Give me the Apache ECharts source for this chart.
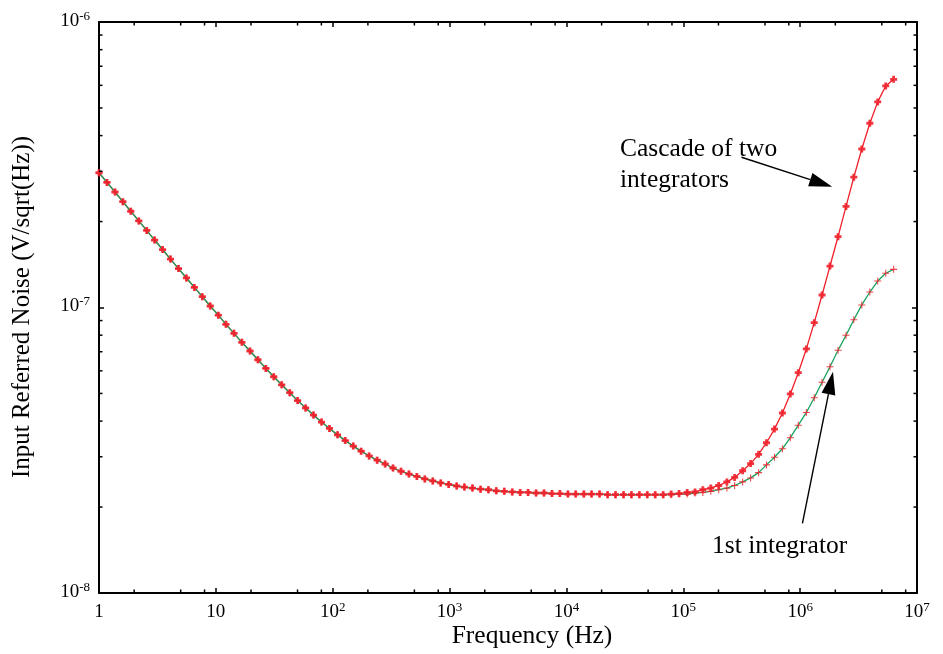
<!DOCTYPE html>
<html>
<head>
<meta charset="utf-8">
<title>Input referred noise</title>
<script src="https://cdn.jsdelivr.net/npm/echarts@6/dist/echarts.min.js"></script>
<style>
  html, body { margin: 0; padding: 0; background: #fff; }
  #chart { width: 943px; height: 654px; }
</style>
</head>
<body>
<div id="chart"></div>
<script>
// frequency grid (Hz), log spaced
const freqHz = [
  1, 1.17, 1.37, 1.6, 1.87, 2.19, 2.56, 2.99, 3.5, 4.09, 4.79, 5.6, 6.55, 7.66, 8.95,
  10.5, 12.2, 14.3, 16.7, 19.6, 22.9, 26.8, 31.3, 36.6, 42.9, 50.1, 58.6, 68.5, 80.2, 93.8,
  110, 128, 150, 175, 205, 240, 281, 328, 384, 449, 525, 614, 718, 839, 982,
  1150, 1340, 1570, 1840, 2150, 2510, 2940, 3440, 4020, 4700, 5500, 6430, 7520, 8790, 1.03e4,
  1.2e4, 1.41e4, 1.64e4, 1.92e4, 2.25e4, 2.63e4, 3.08e4, 3.6e4, 4.21e4, 4.92e4, 5.75e4, 6.73e4, 7.87e4, 9.2e4, 1.08e5,
  1.26e5, 1.47e5, 1.72e5, 2.01e5, 2.36e5, 2.75e5, 3.22e5, 3.77e5, 4.41e5, 5.15e5, 6.03e5, 7.05e5, 8.24e5, 9.64e5, 1.13e6,
  1.32e6, 1.54e6, 1.8e6, 2.11e6, 2.47e6, 2.88e6, 3.37e6, 3.95e6, 4.61e6, 5.4e6, 6.31e6
];

// cascade of two integrators (V/sqrt(Hz))
const cascadeNoise = [
  2.965e-7, 2.743e-7, 2.538e-7, 2.348e-7, 2.173e-7, 2.011e-7, 1.862e-7, 1.723e-7, 1.596e-7, 1.478e-7,
  1.369e-7, 1.269e-7, 1.176e-7, 1.091e-7, 1.012e-7, 9.40e-8, 8.73e-8, 8.12e-8, 7.55e-8, 7.04e-8,
  6.56e-8, 6.12e-8, 5.72e-8, 5.36e-8, 5.03e-8, 4.72e-8, 4.45e-8, 4.20e-8, 3.97e-8, 3.77e-8,
  3.58e-8, 3.42e-8, 3.27e-8, 3.14e-8, 3.02e-8, 2.92e-8, 2.83e-8, 2.74e-8, 2.67e-8, 2.61e-8,
  2.56e-8, 2.51e-8, 2.47e-8, 2.43e-8, 2.40e-8, 2.37e-8, 2.35e-8, 2.33e-8, 2.31e-8, 2.30e-8,
  2.28e-8, 2.27e-8, 2.26e-8, 2.25e-8, 2.25e-8, 2.24e-8, 2.24e-8, 2.23e-8, 2.23e-8, 2.22e-8,
  2.22e-8, 2.22e-8, 2.22e-8, 2.22e-8, 2.21e-8, 2.21e-8, 2.21e-8, 2.21e-8, 2.21e-8, 2.21e-8,
  2.21e-8, 2.21e-8, 2.22e-8, 2.23e-8, 2.25e-8, 2.26e-8, 2.30e-8, 2.33e-8, 2.38e-8, 2.45e-8,
  2.54e-8, 2.68e-8, 2.84e-8, 3.06e-8, 3.36e-8, 3.75e-8, 4.27e-8, 4.98e-8, 5.91e-8, 7.16e-8,
  8.85e-8, 1.106e-7, 1.397e-7, 1.77e-7, 2.26e-7, 2.86e-7, 3.59e-7, 4.42e-7, 5.25e-7, 5.97e-7,
  6.30e-7
];

// 1st integrator (V/sqrt(Hz))
const firstNoise = [
  2.965e-7, 2.743e-7, 2.538e-7, 2.348e-7, 2.173e-7, 2.011e-7, 1.862e-7, 1.723e-7, 1.596e-7, 1.478e-7,
  1.369e-7, 1.269e-7, 1.176e-7, 1.091e-7, 1.012e-7, 9.40e-8, 8.73e-8, 8.12e-8, 7.55e-8, 7.04e-8,
  6.56e-8, 6.12e-8, 5.72e-8, 5.36e-8, 5.03e-8, 4.72e-8, 4.45e-8, 4.20e-8, 3.97e-8, 3.77e-8,
  3.58e-8, 3.42e-8, 3.27e-8, 3.14e-8, 3.02e-8, 2.92e-8, 2.83e-8, 2.74e-8, 2.67e-8, 2.61e-8,
  2.56e-8, 2.51e-8, 2.47e-8, 2.43e-8, 2.40e-8, 2.37e-8, 2.35e-8, 2.33e-8, 2.31e-8, 2.30e-8,
  2.28e-8, 2.27e-8, 2.26e-8, 2.25e-8, 2.25e-8, 2.24e-8, 2.24e-8, 2.23e-8, 2.23e-8, 2.22e-8,
  2.22e-8, 2.22e-8, 2.22e-8, 2.22e-8, 2.21e-8, 2.21e-8, 2.21e-8, 2.21e-8, 2.21e-8, 2.21e-8,
  2.21e-8, 2.21e-8, 2.21e-8, 2.22e-8, 2.22e-8, 2.24e-8, 2.25e-8, 2.27e-8, 2.30e-8, 2.33e-8,
  2.38e-8, 2.45e-8, 2.53e-8, 2.64e-8, 2.81e-8, 2.99e-8, 3.20e-8, 3.50e-8, 3.87e-8, 4.29e-8,
  4.83e-8, 5.47e-8, 6.20e-8, 7.08e-8, 7.99e-8, 9.06e-8, 1.021e-7, 1.133e-7, 1.238e-7, 1.318e-7,
  1.36e-7
];

const xMinorTicks = [2, 5, 8, 20, 50, 80, 200, 500, 800, 2e3, 5e3, 8e3, 2e4, 5e4, 8e4, 2e5, 5e5, 8e5, 2e6, 5e6, 8e6];
const yMinorTicks = [2e-8, 3e-8, 4e-8, 5e-8, 6e-8, 7e-8, 8e-8, 9e-8, 2e-7, 3e-7, 4e-7, 5e-7, 6e-7, 7e-7, 8e-7, 9e-7];

const xMin = 1, xMax = 1e7, yMin = 1e-8, yMax = 1e-6;

const FONT = '"Liberation Serif", "DejaVu Serif", serif';
const RED = '#f0202a';
const GREEN = '#17a25c';

const boldPlus = 'path://M-1.2,-3H1.2V-1.2H3V1.2H1.2V3H-1.2V1.2H-3V-1.2H-1.2Z';
const thinPlus = 'path://M-0.45,-3H0.45V-0.45H3V0.45H0.45V3H-0.45V0.45H-3V-0.45H-0.45Z';

function powLabel(v) {
  const e = Math.round(Math.log10(v));
  if (e === 0) return '{b|1}';
  if (e === 1) return '{b|10}';
  return '{b|10}{s|' + e + '}';
}

const labelRich = {
  b: { fontFamily: FONT, fontSize: 19, lineHeight: 22, color: '#000' },
  s: { fontFamily: FONT, fontSize: 13, lineHeight: 13, verticalAlign: 'top', color: '#000' }
};

const axisLine = { show: true, onZero: false, lineStyle: { color: '#000', width: 2 } };
const axisTick = { show: true, inside: true, length: 5, lineStyle: { color: '#000', width: 1.5 } };

const pairs = (ys) => freqHz.map((f, i) => [f, ys[i]]);

function tickRenderer(isX) {
  return function (params, api) {
    const len = 3.5;
    const style = { stroke: '#000', lineWidth: 1.5 };
    let a, b;
    if (isX) {
      const v = api.value(0);
      a = api.coord([v, yMin]);
      b = api.coord([v, yMax]);
      return { type: 'group', children: [
        { type: 'line', shape: { x1: a[0], y1: a[1], x2: a[0], y2: a[1] - len }, style: style },
        { type: 'line', shape: { x1: b[0], y1: b[1], x2: b[0], y2: b[1] + len }, style: style }
      ] };
    }
    const v = api.value(1);
    a = api.coord([xMin, v]);
    b = api.coord([xMax, v]);
    return { type: 'group', children: [
      { type: 'line', shape: { x1: a[0], y1: a[1], x2: a[0] + len, y2: a[1] }, style: style },
      { type: 'line', shape: { x1: b[0], y1: b[1], x2: b[0] - len, y2: b[1] }, style: style }
    ] };
  };
}

const chart = echarts.init(document.getElementById('chart'), null, { renderer: 'canvas' });

const option = {
  animation: false,
  backgroundColor: '#fff',
  grid: { left: 99, right: 26, top: 22, bottom: 61, containLabel: false },
  xAxis: [
    {
      type: 'log', logBase: 10, min: xMin, max: xMax, interval: 1,
      position: 'bottom',
      axisLine: axisLine, axisTick: axisTick,
      splitLine: { show: false },
      axisLabel: { margin: 8, formatter: powLabel, rich: labelRich }
    },
    {
      type: 'log', logBase: 10, min: xMin, max: xMax, interval: 1,
      position: 'top',
      axisLine: axisLine, axisTick: axisTick,
      splitLine: { show: false },
      axisLabel: { show: false }
    }
  ],
  yAxis: [
    {
      type: 'log', logBase: 10, min: yMin, max: yMax, interval: 1,
      position: 'left',
      axisLine: axisLine, axisTick: axisTick,
      splitLine: { show: false },
      axisLabel: { margin: 9, formatter: powLabel, rich: labelRich, padding: [0, 0, 2, 0] }
    },
    {
      type: 'log', logBase: 10, min: yMin, max: yMax, interval: 1,
      position: 'right',
      axisLine: axisLine, axisTick: axisTick,
      splitLine: { show: false },
      axisLabel: { show: false }
    }
  ],
  series: [
    {
      name: 'Cascade of two integrators',
      type: 'line',
      data: pairs(cascadeNoise),
      showSymbol: false,
      symbol: 'none',
      lineStyle: { color: RED, width: 1.3 },
      z: 2
    },
    {
      name: '1st integrator',
      type: 'line',
      data: pairs(firstNoise),
      symbol: thinPlus,
      symbolSize: 7,
      itemStyle: { color: RED, opacity: 0.85 },
      lineStyle: { color: GREEN, width: 1.3 },
      z: 3
    },
    {
      name: 'Cascade markers',
      type: 'scatter',
      data: pairs(cascadeNoise),
      symbol: boldPlus,
      symbolSize: 7,
      itemStyle: { color: RED, opacity: 0.9 },
      z: 4
    },
    {
      type: 'custom',
      silent: true,
      renderItem: tickRenderer(true),
      data: xMinorTicks.map(v => [v, yMin]),
      z: 5
    },
    {
      type: 'custom',
      silent: true,
      renderItem: tickRenderer(false),
      data: yMinorTicks.map(v => [xMin, v]),
      z: 5
    }
  ]
};

chart.setOption(option);

// annotations anchored in data space
function px(pt) {
  return chart.convertToPixel({ xAxisIndex: 0, yAxisIndex: 0 }, pt);
}

function arrow(from, to) {
  const p0 = px(from), p1 = px(to);
  const dx = p1[0] - p0[0], dy = p1[1] - p0[1];
  const d = Math.sqrt(dx * dx + dy * dy);
  const ux = dx / d, uy = dy / d;
  const headLen = 23, halfW = 7;
  const bx = p1[0] - ux * headLen, by = p1[1] - uy * headLen;
  return [
    { type: 'line', shape: { x1: p0[0], y1: p0[1], x2: bx, y2: by }, style: { stroke: '#000', lineWidth: 1.4 }, z: 10 },
    { type: 'polygon', shape: { points: [p1, [bx - uy * halfW, by + ux * halfW], [bx + uy * halfW, by - ux * halfW]] }, style: { fill: '#000' }, z: 10 }
  ];
}

const textStyle = (text, size, extra) => Object.assign({ text: text, fill: '#000', fontFamily: FONT, fontSize: size }, extra);

chart.setOption({
  graphic: [
    ...arrow([3.15e5, 3.36e-7], [1.88e6, 2.65e-7]),
    ...arrow([1.046e6, 1.754e-8], [1.91e6, 5.96e-8]),
    { type: 'text', x: 620, y: 165, style: textStyle('Cascade of two\nintegrators', 25.5, { lineHeight: 31, align: 'left', verticalAlign: 'middle' }), z: 10 },
    { type: 'text', x: 712, y: 546, style: textStyle('1st integrator', 25.5, { align: 'left', verticalAlign: 'middle' }), z: 10 },
    { type: 'text', x: 532, y: 636, style: textStyle('Frequency (Hz)', 25.5, { align: 'center', verticalAlign: 'middle' }), z: 10 },
    { type: 'text', x: 22, y: 307, rotation: Math.PI / 2, style: textStyle('Input Referred Noise (V/sqrt(Hz))', 25, { align: 'center', verticalAlign: 'middle' }), z: 10 }
  ]
});
</script>
</body>
</html>
